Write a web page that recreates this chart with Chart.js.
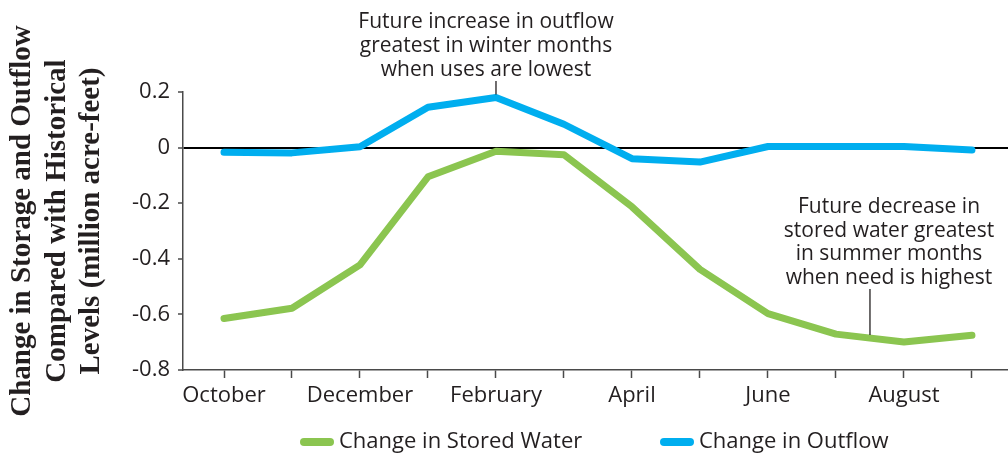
<!DOCTYPE html>
<html>
<head>
<meta charset="utf-8">
<script src="https://cdn.jsdelivr.net/npm/chart.js@4.4.0/dist/chart.umd.min.js"></script>
<style>
  html, body { margin: 0; padding: 0; background: #fff; }
  #wrap { width: 1008px; height: 453px; }
</style>
</head>
<body>
<div id="wrap"><canvas id="chart"></canvas></div>
<script>
// データ
const months = ['October', 'November', 'December', 'January', 'February', 'March',
  'April', 'May', 'June', 'July', 'August', 'September'];
const storedWater = [-0.615, -0.578, -0.422, -0.105, -0.013, -0.026, -0.213, -0.438, -0.597, -0.671, -0.699, -0.675];
const outflow = [-0.017, -0.019, 0.003, 0.145, 0.18, 0.084, -0.04, -0.052, 0.004, 0.004, 0.004, -0.009];
const seriesNames = ['Change in Stored Water', 'Change in Outflow'];
const yTicks = [-0.8, -0.6, -0.4, -0.2, 0, 0.2];
const yTickLabels = ['-0.8', '-0.6', '-0.4', '-0.2', '0', '0.2'];
const yTitle = ['Change in Storage and Outflow', 'Compared with Historical', 'Levels (million acre-feet)'];
const noteOutflow = ['Future increase in outflow', 'greatest in winter months', 'when uses are lowest'];
const noteStored = ['Future decrease in', 'stored water greatest', 'in summer months', 'when need is highest'];

const GREEN = '#8bc550';
const BLUE = '#00aeef';
const INK = '#231f20';
const AXIS = '#4a4a4a';
const SANS = '"Open Sans", "DejaVu Sans", sans-serif';

// 軸タイトル・注記・凡例
const notesPlugin = {
  id: 'notes',
  afterDraw(chart) {
    const { ctx } = chart;
    const x = chart.scales.x;
    const y = chart.scales.y;
    const line = (x1, y1, x2, y2) => {
      ctx.beginPath();
      ctx.moveTo(x1, y1);
      ctx.lineTo(x2, y2);
      ctx.stroke();
    };

    ctx.save();
    ctx.fillStyle = INK;

    // 縦軸タイトル (3行)
    ctx.save();
    ctx.translate(0, 221);
    ctx.rotate(-Math.PI / 2);
    ctx.font = 'bold 29px "Liberation Serif", serif';
    ctx.textAlign = 'center';
    ctx.textBaseline = 'middle';
    yTitle.forEach((t, i) => ctx.fillText(t, 0, 23 + i * 34.5));
    ctx.restore();

    ctx.strokeStyle = INK;
    ctx.lineWidth = 1.3;
    ctx.font = '21px ' + SANS;
    ctx.textAlign = 'center';
    ctx.textBaseline = 'middle';

    noteOutflow.forEach((t, i) => ctx.fillText(t, 486, 22 + i * 24));
    const fx = x.getPixelForValue(4);
    line(fx, 81, fx, y.getPixelForValue(outflow[4]) - 3);

    noteStored.forEach((t, i) => ctx.fillText(t, 889, 207 + i * 23.7));
    const sx = x.getPixelForValue(9.5);
    const sy = y.getPixelForValue((storedWater[9] + storedWater[10]) / 2);
    line(sx, 289, sx, sy - 3);

    // 凡例
    ctx.font = '22px ' + SANS;
    ctx.textAlign = 'left';
    const legendX = [300, 660];
    chart.data.datasets.forEach((ds, i) => {
      const lx = legendX[i];
      ctx.strokeStyle = ds.borderColor;
      ctx.lineWidth = 8;
      ctx.lineCap = 'round';
      line(lx + 4, 442, lx + 30, 442);
      ctx.fillStyle = INK;
      ctx.fillText(ds.label, lx + 39, 442);
    });
    ctx.restore();
  }
};

const ctx = document.getElementById('chart').getContext('2d');
new Chart(ctx, {
  type: 'line',
  data: {
    datasets: [
      {
        label: seriesNames[0],
        data: storedWater.map((v, i) => ({ x: i, y: v })),
        borderColor: GREEN,
        backgroundColor: GREEN
      },
      {
        label: seriesNames[1],
        data: outflow.map((v, i) => ({ x: i, y: v })),
        borderColor: BLUE,
        backgroundColor: BLUE
      }
    ]
  },
  options: {
    responsive: true,
    maintainAspectRatio: false,
    animation: false,
    layout: { padding: { left: 5, top: 92, right: 0, bottom: 0 } },
    plugins: {
      legend: { display: false },
      tooltip: { enabled: false }
    },
    elements: {
      point: { radius: 0 },
      line: { borderWidth: 7, borderCapStyle: 'round', borderJoinStyle: 'round', tension: 0 }
    },
    scales: {
      x: {
        type: 'linear',
        min: -0.603,
        max: 11.53,
        afterBuildTicks: s => { s.ticks = months.map((m, i) => ({ value: i })); },
        afterFit: s => { s.height = 83; },
        grid: { drawOnChartArea: false, tickLength: 8, tickColor: AXIS, tickWidth: 1.5 },
        border: { color: AXIS, width: 1.5 },
        ticks: {
          autoSkip: false,
          maxRotation: 0,
          padding: 5,
          color: INK,
          font: { family: SANS, size: 22 },
          callback: (v, i) => (i % 2 === 0 ? months[i] : '')
        }
      },
      y: {
        min: -0.8,
        max: 0.2,
        afterBuildTicks: s => { s.ticks = yTicks.map(v => ({ value: v })); },
        afterFit: s => { s.width = 178; },
        grid: {
          color: c => (c.tick && c.tick.value === 0 ? '#000' : 'transparent'),
          lineWidth: 2,
          tickColor: AXIS,
          tickLength: 5,
          tickWidth: 1.5
        },
        border: { color: AXIS, width: 1.5 },
        ticks: {
          padding: 8,
          color: INK,
          font: { family: SANS, size: 22 },
          callback: (v, i) => yTickLabels[i]
        }
      }
    }
  },
  plugins: [notesPlugin]
});
</script>
</body>
</html>
